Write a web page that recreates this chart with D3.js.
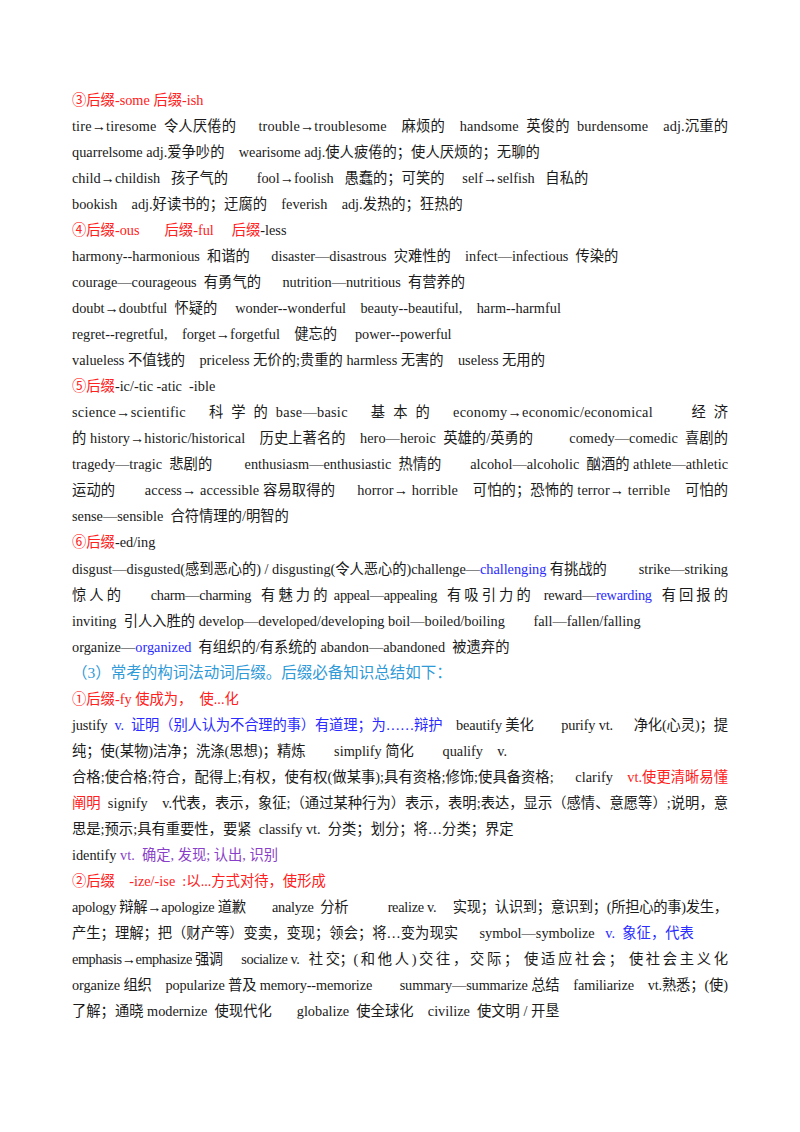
<!DOCTYPE html>
<html><head><meta charset="utf-8">
<script src="https://cdn.jsdelivr.net/npm/d3@7"></script>
<style>
body{margin:0;background:#fff}
text{font-family:"Liberation Serif","Noto Sans CJK SC",serif;font-size:14.3px;white-space:pre}
</style></head><body>
<svg id="page" width="800" height="1132"></svg>
<script>
// Colour keys: k=black, r=red, b=blue, h=heading blue, p=purple
var colors = {k: "#1a1a1a", r: "#ff2020", b: "#2b2bff", h: "#2f9ad8", p: "#8a3fc8"};

// Each line: [justified, [[text, colourKey], ...]]
var lines = [
  [0, [["③后缀-some 后缀-ish", "r"]]],
  [1, [["tire→tiresome  令人厌倦的      trouble→troublesome    麻烦的    handsome  英俊的  burdensome    adj.沉重的", "k"]]],
  [0, [["quarrelsome adj.爱争吵的    wearisome adj.使人疲倦的；使人厌烦的；无聊的", "k"]]],
  [0, [["child→childish   孩子气的        fool→foolish   愚蠢的；可笑的     self→selfish   自私的", "k"]]],
  [0, [["bookish    adj.好读书的；迂腐的    feverish    adj.发热的；狂热的", "k"]]],
  [0, [["④后缀-ous       后缀-ful     后缀", "r"], ["-less", "k"]]],
  [0, [["harmony--harmonious  和谐的      disaster—disastrous  灾难性的    infect—infectious  传染的", "k"]]],
  [0, [["courage—courageous  有勇气的      nutrition—nutritious  有营养的", "k"]]],
  [0, [["doubt→doubtful  怀疑的     wonder--wonderful    beauty--beautiful,    harm--harmful", "k"]]],
  [0, [["regret--regretful,    forget→forgetful    健忘的     power--powerful", "k"]]],
  [0, [["valueless 不值钱的    priceless 无价的;贵重的 harmless 无害的    useless 无用的", "k"]]],
  [0, [["⑤后缀", "r"], ["-ic/-tic -atic  -ible", "k"]]],
  [1, [["science→scientific      科  学  的  base—basic      基  本  的      economy→economic/economical          经  济", "k"]]],
  [1, [["的 history→historic/historical    历史上著名的    hero—heroic  英雄的/英勇的          comedy—comedic  喜剧的", "k"]]],
  [1, [["tragedy—tragic  悲剧的         enthusiasm—enthusiastic  热情的        alcohol—alcoholic  酗酒的 athlete—athletic", "k"]]],
  [1, [["运动的        access→ accessible 容易取得的      horror→ horrible    可怕的；恐怖的 terror→ terrible    可怕的", "k"]]],
  [0, [["sense—sensible  合符情理的/明智的", "k"]]],
  [0, [["⑥后缀", "r"], ["-ed/ing", "k"]]],
  [1, [["disgust—disgusted(感到恶心的) / disgusting(令人恶心的)challenge—", "k"], ["challenging", "b"], [" 有挑战的         strike—striking", "k"]]],
  [1, [["惊 人 的         charm—charming   有 魅 力 的  appeal—appealing   有 吸 引 力 的    reward—", "k"], ["rewarding", "b"], ["   有 回 报 的", "k"]]],
  [0, [["inviting  引人入胜的 develop—developed/developing boil—boiled/boiling        fall—fallen/falling", "k"]]],
  [0, [["organize—", "k"], ["organized", "b"], ["  有组织的/有系统的 abandon—abandoned  被遗弃的", "k"]]],
  [0, [["（3）常考的构词法动词后缀。后缀必备知识总结如下：", "h"]]],
  [0, [["①后缀-fy 使成为，  使...化", "r"]]],
  [1, [["justify  ", "k"], ["v.  证明（别人认为不合理的事）有道理；为……辩护", "b"], ["    beautify 美化        purify vt.      净化(心灵)；提", "k"]]],
  [0, [["纯；使(某物)洁净；洗涤(思想)；精炼        simplify 简化        qualify    v.", "k"]]],
  [1, [["合格;使合格;符合，配得上;有权，使有权(做某事);具有资格;修饰;使具备资格;      clarify    ", "k"], ["vt.使更清晰易懂", "r"]]],
  [1, [["阐明", "r"], ["  signify    v.代表，表示，象征;（通过某种行为）表示，表明;表达，显示（感情、意愿等）;说明，意", "k"]]],
  [0, [["思是;预示;具有重要性，要紧  classify vt.  分类；划分；将…分类；界定", "k"]]],
  [0, [["identify ", "k"], ["vt.  确定, 发现; 认出, 识别", "p"]]],
  [0, [["②后缀    -ize/-ise  :以...方式对待，使形成", "r"]]],
  [1, [["apology 辩解→apologize 道歉        analyze  分析            realize v.     实现；认识到；意识到；(所担心的事)发生，", "k"]]],
  [0, [["产生；理解；把（财产等）变卖，变现；领会；将…变为现实      symbol—symbolize   ", "k"], ["v.  象征，代表", "b"]]],
  [1, [["emphasis→emphasize 强调      socialize v.   社 交；( 和 他 人 ) 交 往 ， 交 际 ；  使 适 应 社 会 ；  使 社 会 主 义 化", "k"]]],
  [1, [["organize 组织    popularize 普及 memory--memorize        summary—summarize 总结    familiarize    vt.熟悉；(使)", "k"]]],
  [0, [["了解；通晓 modernize  使现代化       globalize  使全球化    civilize  使文明 / 开垦", "k"]]]
];

var svg = d3.select("#page");
var y = d3.scaleLinear().domain([0, lines.length - 1]).range([105, 1016]);
var left = 72, right = 728;

svg.selectAll("text.line")
  .data(lines).enter()
  .append("text")
  .attr("class", "line")
  .attr("x", left)
  .attr("y", function (d, i) { return y(i); })
  .style("font-size", function (d) { return d[1][0][1] === "h" ? "15.5px" : null; })
  .each(function (d) {
    var t = d3.select(this);
    if (d[0]) t.attr("textLength", right - left).attr("lengthAdjust", "spacing");
    t.selectAll("tspan").data(d[1]).enter()
      .append("tspan")
      .attr("fill", function (s) { return colors[s[1]]; })
      .text(function (s) { return s[0]; });
  });
</script>
</body></html>
